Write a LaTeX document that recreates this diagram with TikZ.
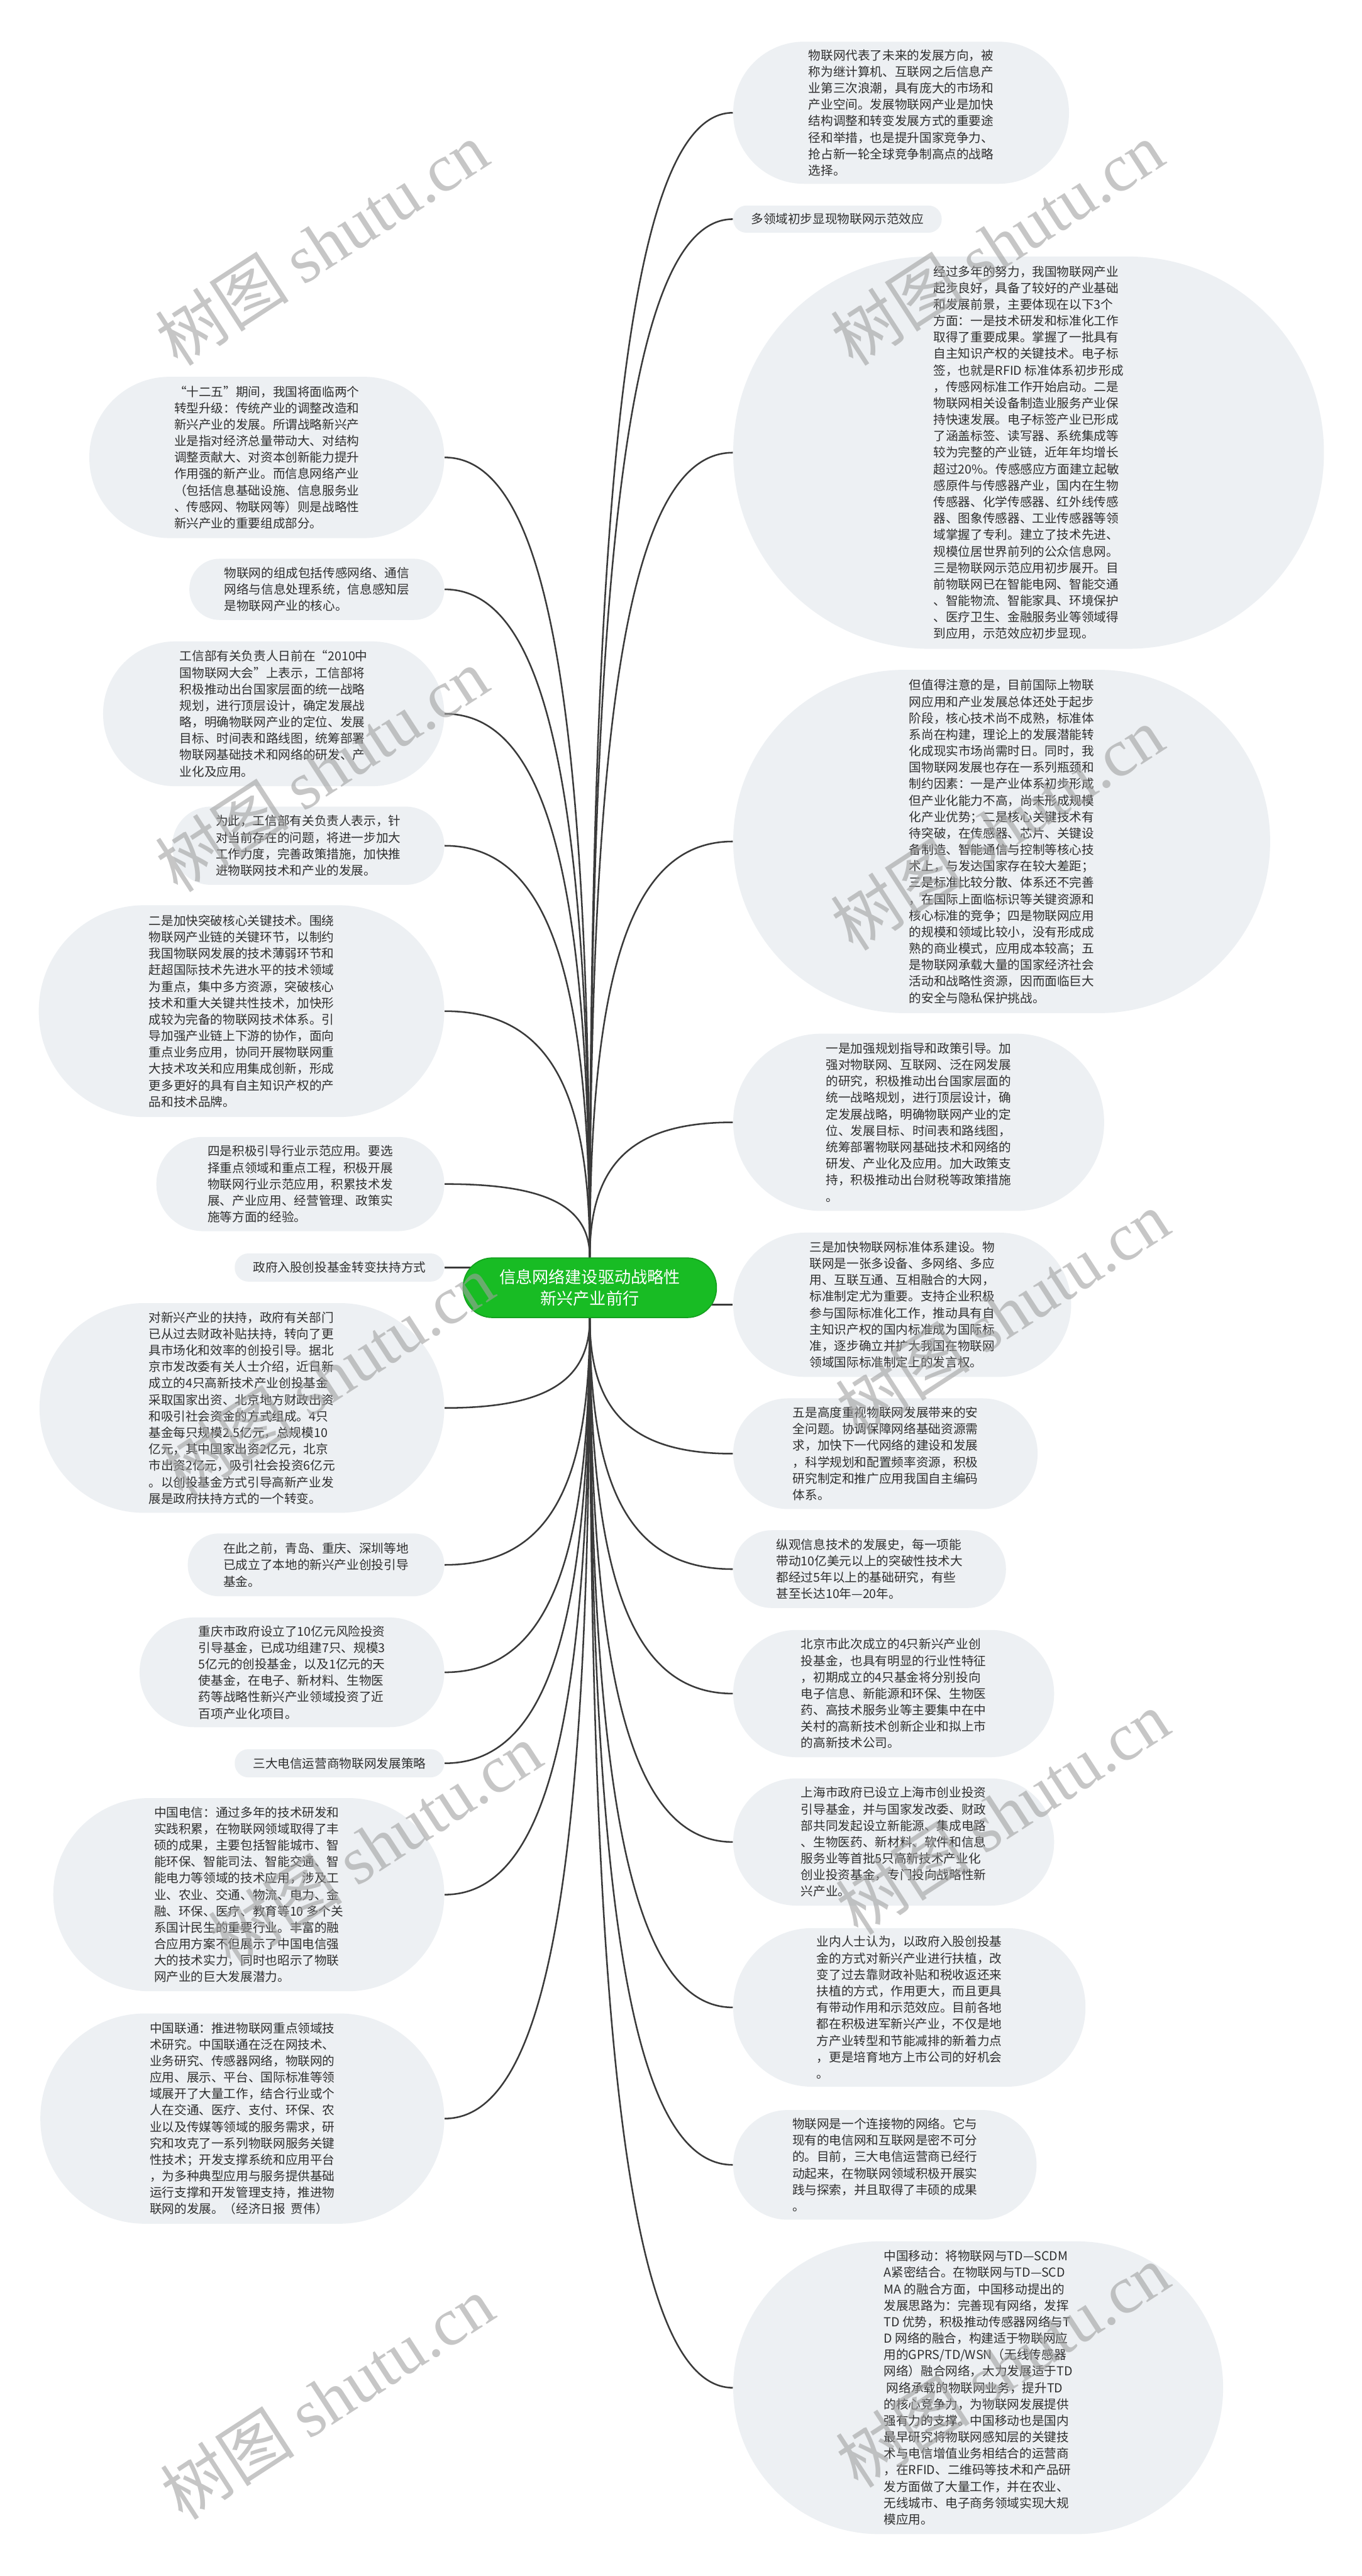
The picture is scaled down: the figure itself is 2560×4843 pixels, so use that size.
\documentclass[tikz,border=0pt]{standalone}
\usepackage{fontspec}
\newfontfamily\cjk{Noto Sans CJK SC}
\newfontfamily\wmserif{Liberation Serif}
\usetikzlibrary{calc,backgrounds}
\definecolor{bubfill}{HTML}{EDF0F3}
\definecolor{linegray}{HTML}{3A3A3A}
\definecolor{rootgreen}{HTML}{18BC24}
\definecolor{rootedge}{HTML}{13A01E}
\definecolor{inktext}{HTML}{2F2F2F}
\definecolor{wmgray}{HTML}{A0A0A0}

\begin{document}
\begin{tikzpicture}[
  x=0.01cm, y=-0.01cm,
  every node/.style={inner sep=0pt},
  % pale stadium bubbles; #1 is the bubble height
  bubble/.style={fill=bubfill, text=inktext, align=left,
    font=\cjk\fontsize{6.6pt}{8.8pt}\selectfont,
    minimum height=#1, inner xsep=#1/2+0.08cm, rounded corners=#1/2-0.2pt},
  root/.style={fill=rootgreen, draw=rootedge, line width=0.02cm, text=white,
    align=center, font=\cjk\fontsize{8.8pt}{11.4pt}\selectfont,
    minimum width=4.76cm, minimum height=1.12cm, rounded corners=0.55cm},
  % branch curves: leave the centre vertically, reach the bubble horizontally
  link/.style={draw=linegray, line width=0.03cm,
    to path={.. controls ($(\tikztostart)!0.7!(\tikztostart |- \tikztotarget)$)
      and ($(\tikztotarget)!0.7!(\tikztostart |- \tikztotarget)$) .. (\tikztotarget)}},
  wmark/.style={anchor=south west, rotate=33, text=wmgray, opacity=0.6,
    font=\fontsize{36pt}{36pt}\selectfont}]

  \useasboundingbox (0,0) rectangle (2560,4843);

  % centre
  \node[root] (g) at (1109,2421) {信息网络建设驱动战略性\\新兴产业前行};

  % right branch
  \node[bubble=2.67cm, anchor=west] (r1) at (1378,212) {物联网代表了未来的发展方向，被\\
    称为继计算机、互联网之后信息产\\
    业第三次浪潮，具有庞大的市场和\\
    产业空间。发展物联网产业是加快\\
    结构调整和转变发展方式的重要途\\
    径和举措，也是提升国家竞争力、\\
    抢占新一轮全球竞争制高点的战略\\
    选择。};
  \node[bubble=0.51cm, anchor=west] (r2) at (1378,412) {多领域初步显现物联网示范效应};
  \node[bubble=7.37cm, anchor=west] (r3) at (1378,851) {经过多年的努力，我国物联网产业\\
    起步良好，具备了较好的产业基础\\
    和发展前景，主要体现在以下3个\\
    方面：一是技术研发和标准化工作\\
    取得了重要成果。掌握了一批具有\\
    自主知识产权的关键技术。电子标\\
    签，也就是RFID 标准体系初步形成\\
    ，传感网标准工作开始启动。二是\\
    物联网相关设备制造业服务产业保\\
    持快速发展。电子标签产业已形成\\
    了涵盖标签、读写器、系统集成等\\
    较为完整的产业链，近年年均增长\\
    超过20\%。传感感应方面建立起敏\\
    感原件与传感器产业，国内在生物\\
    传感器、化学传感器、红外线传感\\
    器、图象传感器、工业传感器等领\\
    域掌握了专利。建立了技术先进、\\
    规模位居世界前列的公众信息网。\\
    三是物联网示范应用初步展开。目\\
    前物联网已在智能电网、智能交通\\
    、智能物流、智能家具、环境保护\\
    、医疗卫生、金融服务业等领域得\\
    到应用，示范效应初步显现。};
  \node[bubble=6.45cm, anchor=west] (r4) at (1378,1582) {但值得注意的是，目前国际上物联\\
    网应用和产业发展总体还处于起步\\
    阶段，核心技术尚不成熟，标准体\\
    系尚在构建，理论上的发展潜能转\\
    化成现实市场尚需时日。同时，我\\
    国物联网发展也存在一系列瓶颈和\\
    制约因素：一是产业体系初步形成\\
    但产业化能力不高，尚未形成规模\\
    化产业优势；二是核心关键技术有\\
    待突破，在传感器、芯片、关键设\\
    备制造、智能通信与控制等核心技\\
    术上，与发达国家存在较大差距；\\
    三是标准比较分散、体系还不完善\\
    ，在国际上面临标识等关键资源和\\
    核心标准的竞争；四是物联网应用\\
    的规模和领域比较小，没有形成成\\
    熟的商业模式，应用成本较高；五\\
    是物联网承载大量的国家经济社会\\
    活动和战略性资源，因而面临巨大\\
    的安全与隐私保护挑战。};
  \node[bubble=3.33cm, anchor=west] (r5) at (1378,2110) {一是加强规划指导和政策引导。加\\
    强对物联网、互联网、泛在网发展\\
    的研究，积极推动出台国家层面的\\
    统一战略规划，进行顶层设计，确\\
    定发展战略，明确物联网产业的定\\
    位、发展目标、时间表和路线图，\\
    统筹部署物联网基础技术和网络的\\
    研发、产业化及应用。加大政策支\\
    持，积极推动出台财税等政策措施\\
    。};
  \node[bubble=2.71cm, anchor=west] (r6) at (1378,2453) {三是加快物联网标准体系建设。物\\
    联网是一张多设备、多网络、多应\\
    用、互联互通、互相融合的大网，\\
    标准制定尤为重要。支持企业积极\\
    参与国际标准化工作，推动具有自\\
    主知识产权的国内标准成为国际标\\
    准，逐步确立并扩大我国在物联网\\
    领域国际标准制定上的发言权。};
  \node[bubble=2.08cm, anchor=west] (r7) at (1378,2733) {五是高度重视物联网发展带来的安\\
    全问题。协调保障网络基础资源需\\
    求，加快下一代网络的建设和发展\\
    ，科学规划和配置频率资源，积极\\
    研究制定和推广应用我国自主编码\\
    体系。};
  \node[bubble=1.46cm, anchor=west] (r8) at (1378,2950) {纵观信息技术的发展史，每一项能\\
    带动10亿美元以上的突破性技术大\\
    都经过5年以上的基础研究，有些\\
    甚至长达10年—20年。};
  \node[bubble=2.39cm, anchor=west] (r9) at (1378,3184) {北京市此次成立的4只新兴产业创\\
    投基金，也具有明显的行业性特征\\
    ，初期成立的4只基金将分别投向\\
    电子信息、新能源和环保、生物医\\
    药、高技术服务业等主要集中在中\\
    关村的高新技术创新企业和拟上市\\
    的高新技术公司。};
  \node[bubble=2.39cm, anchor=west] (r10) at (1378,3463) {上海市政府已设立上海市创业投资\\
    引导基金，并与国家发改委、财政\\
    部共同发起设立新能源、集成电路\\
    、生物医药、新材料、软件和信息\\
    服务业等首批5只高新技术产业化\\
    创业投资基金，专门投向战略性新\\
    兴产业。};
  \node[bubble=2.98cm, anchor=west] (r11) at (1378,3774) {业内人士认为，以政府入股创投基\\
    金的方式对新兴产业进行扶植，改\\
    变了过去靠财政补贴和税收返还来\\
    扶植的方式，作用更大，而且更具\\
    有带动作用和示范效应。目前各地\\
    都在积极进军新兴产业，不仅是地\\
    方产业转型和节能减排的新着力点\\
    ，更是培育地方上市公司的好机会\\
    。};
  \node[bubble=2.06cm, anchor=west] (r12) at (1378,4070) {物联网是一个连接物的网络。它与\\
    现有的电信网和互联网是密不可分\\
    的。目前，三大电信运营商已经行\\
    动起来，在物联网领域积极开展实\\
    践与探索，并且取得了丰硕的成果\\
    。};
  \node[bubble=5.50cm, anchor=west] (r13) at (1378,4489) {中国移动：将物联网与TD—SCDM\\
    A紧密结合。在物联网与TD—SCD\\
    MA 的融合方面，中国移动提出的\\
    发展思路为：完善现有网络，发挥\\
    TD 优势，积极推动传感器网络与T\\
    D 网络的融合，构建适于物联网应\\
    用的GPRS/TD/WSN（无线传感器\\
    网络）融合网络，大力发展适于TD\\
    \ 网络承载的物联网业务，提升TD\\
    的核心竞争力，为物联网发展提供\\
    强有力的支撑。中国移动也是国内\\
    最早研究将物联网感知层的关键技\\
    术与电信增值业务相结合的运营商\\
    ，在RFID、二维码等技术和产品研\\
    发方面做了大量工作，并在农业、\\
    无线城市、电子商务领域实现大规\\
    模应用。};

  % left branch
  \node[bubble=3.03cm, anchor=east] (l1) at (836,860) {“十二五”期间，我国将面临两个\\
    转型升级：传统产业的调整改造和\\
    新兴产业的发展。所谓战略新兴产\\
    业是指对经济总量带动大、对结构\\
    调整贡献大、对资本创新能力提升\\
    作用强的新产业。而信息网络产业\\
    （包括信息基础设施、信息服务业\\
    、传感网、物联网等）则是战略性\\
    新兴产业的重要组成部分。};
  \node[bubble=1.15cm, anchor=east] (l2) at (836,1108) {物联网的组成包括传感网络、通信\\
    网络与信息处理系统，信息感知层\\
    是物联网产业的核心。};
  \node[bubble=2.72cm, anchor=east] (l3) at (836,1342) {工信部有关负责人日前在“2010中\\
    国物联网大会”上表示，工信部将\\
    积极推动出台国家层面的统一战略\\
    规划，进行顶层设计，确定发展战\\
    略，明确物联网产业的定位、发展\\
    目标、时间表和路线图，统筹部署\\
    物联网基础技术和网络的研发、产\\
    业化及应用。};
  \node[bubble=1.47cm, anchor=east] (l4) at (836,1590) {为此，工信部有关负责人表示，针\\
    对当前存在的问题，将进一步加大\\
    工作力度，完善政策措施，加快推\\
    进物联网技术和产业的发展。};
  \node[bubble=3.98cm, anchor=east] (l5) at (836,1901) {二是加快突破核心关键技术。围绕\\
    物联网产业链的关键环节，以制约\\
    我国物联网发展的技术薄弱环节和\\
    赶超国际技术先进水平的技术领域\\
    为重点，集中多方资源，突破核心\\
    技术和重大关键共性技术，加快形\\
    成较为完备的物联网技术体系。引\\
    导加强产业链上下游的协作，面向\\
    重点业务应用，协同开展物联网重\\
    大技术攻关和应用集成创新，形成\\
    更多更好的具有自主知识产权的产\\
    品和技术品牌。};
  \node[bubble=1.77cm, anchor=east] (l6) at (836,2226) {四是积极引导行业示范应用。要选\\
    择重点领域和重点工程，积极开展\\
    物联网行业示范应用，积累技术发\\
    展、产业应用、经营管理、政策实\\
    施等方面的经验。};
  \node[bubble=0.53cm, anchor=east] (l7) at (836,2383) {政府入股创投基金转变扶持方式};
  \node[bubble=3.94cm, anchor=east] (l8) at (836,2647) {对新兴产业的扶持，政府有关部门\\
    已从过去财政补贴扶持，转向了更\\
    具市场化和效率的创投引导。据北\\
    京市发改委有关人士介绍，近日新\\
    成立的4只高新技术产业创投基金\\
    采取国家出资、北京地方财政出资\\
    和吸引社会资金的方式组成。4只\\
    基金每只规模2.5亿元，总规模10\\
    亿元，其中国家出资2亿元，北京\\
    市出资2亿元，吸引社会投资6亿元\\
    。以创投基金方式引导高新产业发\\
    展是政府扶持方式的一个转变。};
  \node[bubble=1.18cm, anchor=east] (l9) at (836,2942) {在此之前，青岛、重庆、深圳等地\\
    已成立了本地的新兴产业创投引导\\
    基金。};
  \node[bubble=2.06cm, anchor=east] (l10) at (836,3144) {重庆市政府设立了10亿元风险投资\\
    引导基金，已成功组建7只、规模3\\
    5亿元的创投基金，以及1亿元的天\\
    使基金，在电子、新材料、生物医\\
    药等战略性新兴产业领域投资了近\\
    百项产业化项目。};
  \node[bubble=0.53cm, anchor=east] (l11) at (836,3315) {三大电信运营商物联网发展策略};
  \node[bubble=3.63cm, anchor=east] (l12) at (836,3562) {中国电信：通过多年的技术研发和\\
    实践积累，在物联网领域取得了丰\\
    硕的成果，主要包括智能城市、智\\
    能环保、智能司法、智能交通、智\\
    能电力等领域的技术应用，涉及工\\
    业、农业、交通、物流、电力、金\\
    融、环保、医疗、教育等10 多个关\\
    系国计民生的重要行业。丰富的融\\
    合应用方案不但展示了中国电信强\\
    大的技术实力，同时也昭示了物联\\
    网产业的巨大发展潜力。};
  \node[bubble=3.95cm, anchor=east] (l13) at (836,3983) {中国联通：推进物联网重点领域技\\
    术研究。中国联通在泛在网技术、\\
    业务研究、传感器网络，物联网的\\
    应用、展示、平台、国际标准等领\\
    域展开了大量工作，结合行业或个\\
    人在交通、医疗、支付、环保、农\\
    业以及传媒等领域的服务需求，研\\
    究和攻克了一系列物联网服务关键\\
    性技术；开发支撑系统和应用平台\\
    ，为多种典型应用与服务提供基础\\
    运行支撑和开发管理支持，推进物\\
    联网的发展。（经济日报\ \ 贾伟）};

  % connectors, kept behind the bubbles
  \begin{scope}[on background layer]
    \fill[white] (0,0) rectangle (2560,4843);
    \draw[link] (g.north) to (r1.west);
    \draw[link] (g.north) to (r2.west);
    \draw[link] (g.north) to (r3.west);
    \draw[link] (g.north) to (r4.west);
    \draw[link] (g.north) to (r5.west);
    \draw[link] (g.center |- r6.west) -- (r6.west);
    \draw[link] (g.south) to (r7.west);
    \draw[link] (g.south) to (r8.west);
    \draw[link] (g.south) to (r9.west);
    \draw[link] (g.south) to (r10.west);
    \draw[link] (g.south) to (r11.west);
    \draw[link] (g.south) to (r12.west);
    \draw[link] (g.south) to (r13.west);
    \draw[link] (g.north) to (l1.east);
    \draw[link] (g.north) to (l2.east);
    \draw[link] (g.north) to (l3.east);
    \draw[link] (g.north) to (l4.east);
    \draw[link] (g.north) to (l5.east);
    \draw[link] (g.north) to (l6.east);
    \draw[link] (g.center |- l7.east) -- (l7.east);
    \draw[link] (g.south) to (l8.east);
    \draw[link] (g.south) to (l9.east);
    \draw[link] (g.south) to (l10.east);
    \draw[link] (g.south) to (l11.east);
    \draw[link] (g.south) to (l12.east);
    \draw[link] (g.south) to (l13.east);
  \end{scope}

  % watermarks
  \node[wmark] (wm1) at (340,700)  {\cjk 树图 \wmserif shutu.cn};
  \node[wmark] (wm2) at (340,1690) {\cjk 树图 \wmserif shutu.cn};
  \node[wmark] (wm3) at (350,2830) {\cjk 树图 \wmserif shutu.cn};
  \node[wmark] (wm4) at (440,3710) {\cjk 树图 \wmserif shutu.cn};
  \node[wmark] (wm5) at (350,4750) {\cjk 树图 \wmserif shutu.cn};
  \node[wmark] (wm6) at (1610,700)  {\cjk 树图 \wmserif shutu.cn};
  \node[wmark] (wm7) at (1610,1800) {\cjk 树图 \wmserif shutu.cn};
  \node[wmark] (wm8) at (1620,2710) {\cjk 树图 \wmserif shutu.cn};
  \node[wmark] (wm9) at (1620,3650) {\cjk 树图 \wmserif shutu.cn};
  \node[wmark] (wm10) at (1620,4690) {\cjk 树图 \wmserif shutu.cn};
\end{tikzpicture}
\end{document}
